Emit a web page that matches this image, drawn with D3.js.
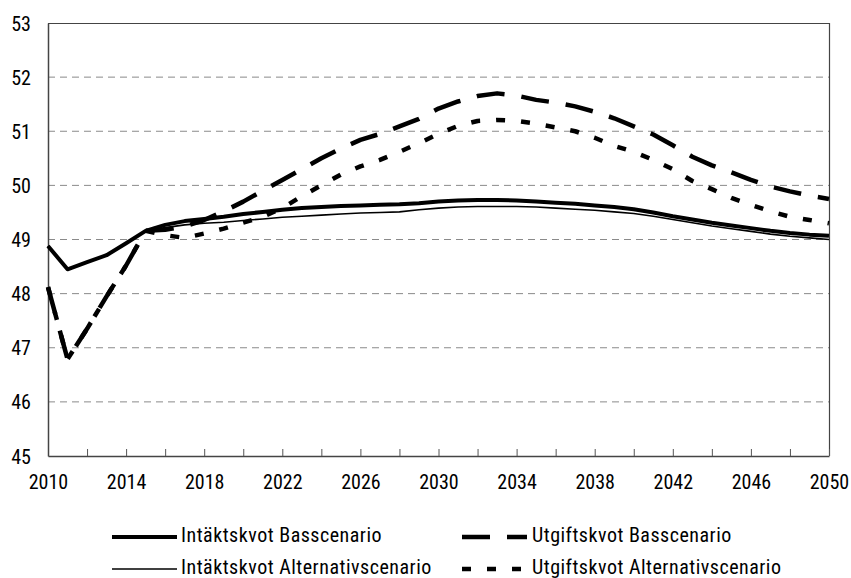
<!DOCTYPE html>
<html>
<head>
<meta charset="utf-8">
<script src="https://cdn.jsdelivr.net/npm/d3@7"></script>
<style>
  body { margin: 0; background: #fff; }
  svg { display: block; }
  text { font-family: "Liberation Sans Narrow", "Roboto Condensed", "DejaVu Sans Condensed", sans-serif; font-size: 20px; fill: #000; }
</style>
</head>
<body>
<svg width="851" height="578"></svg>
<script>
// years on the x axis
var years = [2010, 2011, 2012, 2013, 2014, 2015, 2016, 2017, 2018, 2019,
             2020, 2021, 2022, 2023, 2024, 2025, 2026, 2027, 2028, 2029,
             2030, 2031, 2032, 2033, 2034, 2035, 2036, 2037, 2038, 2039,
             2040, 2041, 2042, 2043, 2044, 2045, 2046, 2047, 2048, 2049, 2050];

// series (% of GDP)
var intaktBas = [48.88, 48.45, 48.58, 48.71, 48.93, 49.16, 49.27, 49.34, 49.38, 49.42,
                 49.47, 49.51, 49.55, 49.58, 49.60, 49.62, 49.63, 49.64, 49.65, 49.67,
                 49.70, 49.72, 49.73, 49.73, 49.72, 49.70, 49.68, 49.66, 49.63, 49.60,
                 49.56, 49.50, 49.43, 49.37, 49.31, 49.26, 49.21, 49.16, 49.12, 49.09, 49.07];
var intaktAlt = [48.88, 48.45, 48.58, 48.71, 48.93, 49.16, 49.22, 49.27, 49.30, 49.32,
                 49.35, 49.38, 49.41, 49.43, 49.45, 49.47, 49.49, 49.50, 49.51, 49.55,
                 49.58, 49.60, 49.61, 49.61, 49.61, 49.60, 49.58, 49.56, 49.54, 49.51,
                 49.48, 49.43, 49.37, 49.31, 49.25, 49.20, 49.15, 49.10, 49.06, 49.03, 49.00];
var utgiftBas = [48.12, 46.79, 47.35, 47.95, 48.52, 49.16, 49.18, 49.24, 49.36, 49.52,
                 49.70, 49.90, 50.10, 50.30, 50.50, 50.68, 50.84, 50.95, 51.09, 51.23,
                 51.42, 51.55, 51.65, 51.70, 51.66, 51.58, 51.53, 51.46, 51.36, 51.24,
                 51.09, 50.94, 50.74, 50.53, 50.37, 50.24, 50.10, 49.98, 49.89, 49.81, 49.75];
var utgiftAlt = [48.12, 46.79, 47.35, 47.95, 48.52, 49.16, 49.08, 49.03, 49.11, 49.20,
                 49.31, 49.42, 49.58, 49.80, 50.00, 50.20, 50.35, 50.47, 50.62, 50.78,
                 50.95, 51.10, 51.19, 51.21, 51.19, 51.14, 51.07, 51.00, 50.88, 50.73,
                 50.62, 50.47, 50.30, 50.08, 49.93, 49.77, 49.64, 49.52, 49.42, 49.36, 49.30];

var xTickLabels = [2010, 2014, 2018, 2022, 2026, 2030, 2034, 2038, 2042, 2046, 2050];
var yTickLabels = [45, 46, 47, 48, 49, 50, 51, 52, 53];

var seriesNames = ["Intäktskvot Basscenario", "Utgiftskvot Basscenario",
                   "Intäktskvot Alternativscenario", "Utgiftskvot Alternativscenario"];

var svg = d3.select("svg");
var margin = {top: 23, right: 22, bottom: 122, left: 48};
var width = 851 - margin.left - margin.right;
var height = 578 - margin.top - margin.bottom;

var x = d3.scaleLinear().domain([2010, 2050]).range([0, width]);
var y = d3.scaleLinear().domain([45, 53]).range([height, 0]);

var g = svg.append("g")
    .attr("transform", "translate(" + margin.left + "," + margin.top + ")");

// dashed gridlines
g.selectAll(".grid")
    .data(yTickLabels.filter(function(d) { return d > 45 && d < 53; }))
    .enter().append("line")
    .attr("x1", 0).attr("x2", width)
    .attr("y1", function(d) { return y(d); })
    .attr("y2", function(d) { return y(d); })
    .attr("stroke", "#8a8a8a")
    .attr("stroke-width", 1)
    .attr("stroke-dasharray", "7,5");

// frame: top and right
g.append("path")
    .attr("d", "M0,0.5H" + (width + 0.5) + "V" + height)
    .attr("fill", "none")
    .attr("stroke", "#444")
    .attr("stroke-width", 1.2);

// x axis with inner ticks every 2 years
var xAxis = g.append("g")
    .attr("transform", "translate(0," + height + ")")
    .call(d3.axisBottom(x)
        .tickValues(years.filter(function(d) { return (d - 2010) % 2 === 0; }))
        .tickSize(-7)
        .tickSizeOuter(0)
        .tickFormat(function(d) { return xTickLabels.indexOf(d) >= 0 ? d : ""; }));
xAxis.select(".domain").attr("stroke", "#444").attr("stroke-width", 1.5);
xAxis.selectAll(".tick line").attr("stroke", "#555");
xAxis.selectAll(".tick text")
    .attr("y", 33)
    .attr("dy", "0")
    .style("font-size", "20px")
    .style("font-family", null);

// y axis without tick marks
var yAxis = g.append("g")
    .call(d3.axisLeft(y).tickValues(yTickLabels).tickSize(0).tickFormat(d3.format("d")));
yAxis.select(".domain").attr("stroke", "#444").attr("stroke-width", 1.5);
yAxis.selectAll(".tick text")
    .attr("x", -17)
    .attr("dy", "0.35em")
    .style("font-size", "20px")
    .style("font-family", null);

var line = d3.line()
    .x(function(d, i) { return x(years[i]); })
    .y(function(d) { return y(d); });

var styles = [
  {data: intaktBas, width: 4, dash: null},
  {data: utgiftBas, width: 4.5, dash: "28,17"},
  {data: intaktAlt, width: 1.6, dash: null},
  {data: utgiftAlt, width: 4.5, dash: "9,16"}
];

// draw dashed first so the solids sit on top
[1, 3, 0, 2].forEach(function(k) {
  var s = styles[k];
  g.append("path")
      .datum(s.data)
      .attr("fill", "none")
      .attr("stroke", "#000")
      .attr("stroke-width", s.width)
      .attr("stroke-dasharray", s.dash)
      .attr("stroke-linejoin", "round")
      .attr("d", line);
});

// legend, two columns
var legend = svg.append("g");
var legendPos = [[112, 537], [462, 537], [112, 569], [462, 569]];
seriesNames.forEach(function(name, k) {
  var p = legendPos[k];
  var s = styles[k];
  legend.append("line")
      .attr("x1", p[0]).attr("x2", p[0] + 65)
      .attr("y1", p[1]).attr("y2", p[1])
      .attr("stroke", "#000")
      .attr("stroke-width", s.width)
      .attr("stroke-dasharray", s.dash);
  legend.append("text")
      .attr("x", p[0] + (k % 2 === 0 ? 69 : 70))
      .attr("y", p[1] + 5)
      .style("letter-spacing", "0.5px")
      .text(name);
});
</script>
</body>
</html>
